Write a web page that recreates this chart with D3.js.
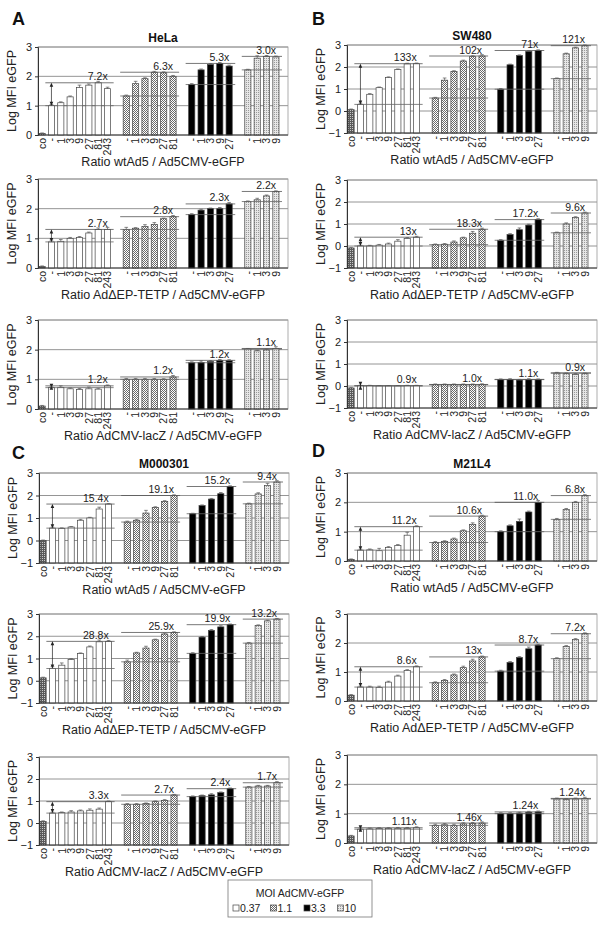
<!DOCTYPE html>
<html><head><meta charset="utf-8">
<script src="https://cdn.jsdelivr.net/npm/d3@7"></script>
<style>body{margin:0;background:#fff} svg{display:block;font-family:"Liberation Sans",Arial,sans-serif}</style>
</head><body><svg id="c" width="600" height="929"></svg>
<script>
// ---------- DATA ----------
const categories = ["co","-","1","3","9","27","81","243","-","1","3","9","27","81","-","1","3","9","27","-","1","3","9"];
const groupOf    = [0,1,1,1,1,1,1,1,2,2,2,2,2,2,3,3,3,3,3,4,4,4,4];
const moiLabels  = ["0.37","1.1","3.3","10"];
const cellLines  = ["HeLa","SW480","M000301","M21L4"];
const panelLetters = ["A","B","C","D"];
const ratioTitles = ["Ratio wtAd5 / Ad5CMV-eGFP","Ratio Ad\u0394EP-TETP / Ad5CMV-eGFP","Ratio AdCMV-lacZ / Ad5CMV-eGFP"];
const yTicksA = [0,1,2,3];
const yTicksB = [-1,0,1,2,3];

const helaWt   = [0.05, 1.0,1.1,1.3,1.62,1.7,1.78,1.58, 1.33,1.75,1.92,2.14,2.12,2.0, 1.72,2.22,2.4,2.44,2.35, 2.22,2.62,2.68,2.66];
const helaTetp = [0.05, 0.88,0.9,1.0,1.03,1.18,1.3,1.3, 1.3,1.34,1.4,1.47,1.66,1.73, 1.8,1.95,2.0,2.0,2.16, 2.24,2.3,2.43,2.58];
const helaLacz = [0.1, 0.72,0.73,0.68,0.66,0.68,0.67,0.78, 1.0,1.0,1.0,1.0,0.99,1.08, 1.56,1.57,1.6,1.64,1.63, 2.02,1.96,1.99,2.04];
const swWt     = [0.06, 0.3,0.76,1.06,1.52,1.88,2.14,2.15, 0.59,1.4,1.8,2.27,2.47,2.5, 0.99,2.1,2.52,2.71,2.75, 1.47,2.6,2.87,2.97];
const swTetp   = [-0.09, 0.0,0.0,0.04,0.09,0.22,0.34,0.4, 0.06,0.08,0.18,0.37,0.58,0.76, 0.26,0.52,0.74,0.95,1.2, 0.6,1.0,1.3,1.5];
const swLacz   = [-0.09, 0.01,0.01,0.0,0.0,0.0,0.01,0.01, 0.06,0.06,0.06,0.06,0.06,0.07, 0.29,0.3,0.27,0.3,0.29, 0.59,0.56,0.53,0.56];
const mWt      = [0.0, 0.55,0.54,0.6,0.9,1.0,1.4,1.62, 0.82,0.9,1.22,1.47,1.74,2.0, 1.19,1.55,1.84,2.08,2.4, 1.63,2.07,2.44,2.6];
const mTetp    = [0.13, 0.55,0.7,0.95,1.22,1.52,1.75,1.77, 0.85,1.25,1.47,1.84,2.1,2.17, 1.23,1.96,2.26,2.42,2.52, 1.69,2.48,2.69,2.77];
const mLacz    = [0.07, 0.45,0.47,0.5,0.55,0.58,0.63,0.97, 0.85,0.85,0.88,0.97,1.03,1.27, 1.2,1.24,1.28,1.38,1.56, 1.63,1.68,1.68,1.83];
const dWt      = [0.05, 0.37,0.38,0.35,0.46,0.53,0.88,1.17, 0.63,0.66,0.75,1.03,1.25,1.53, 1.0,1.2,1.35,1.67,2.0, 1.42,1.76,2.0,2.23];
const dTetp    = [0.2, 0.48,0.48,0.47,0.65,0.86,1.05,1.18, 0.63,0.71,0.9,1.15,1.38,1.52, 1.03,1.33,1.5,1.8,1.93, 1.46,1.88,2.12,2.32];
const dLacz    = [0.24, 0.47,0.48,0.49,0.49,0.5,0.5,0.52, 0.6,0.62,0.6,0.65,0.66,0.68, 1.0,1.0,1.02,1.05,1.06, 1.5,1.48,1.5,1.52];

const helaWtErr   = [0.02, 0.04,0.03,0.03,0.08,0.04,0.05,0.05, 0.03,0.08,0.03,0.03,0.03,0.03, 0.03,0.03,0.03,0.03,0.03, 0.02,0.08,0.03,0.03];
const helaTetpErr = [0.02, 0.06,0.06,0.03,0.03,0.03,0.05,0.07, 0.07,0.02,0.06,0.06,0.02,0.04, 0.03,0.03,0.02,0.04,0.05, 0.02,0.05,0.03,0.02];
const helaLaczErr = [0.02, 0.03,0.05,0.03,0.03,0.06,0.03,0.03, 0.03,0.03,0.03,0.03,0.03,0.05, 0.03,0.05,0.03,0.03,0.03, 0.02,0.02,0.03,0.06];
const swWtErr     = [0.03, 0.05,0.03,0.03,0.03,0.03,0.03,0.03, 0.03,0.1,0.03,0.04,0.04,0.06, 0.03,0.03,0.03,0.03,0.03, 0.03,0.03,0.03,0.03];
const swTetpErr   = [0.03, 0.03,0.03,0.03,0.04,0.07,0.04,0.04, 0.03,0.03,0.05,0.03,0.08,0.05, 0.03,0.04,0.08,0.04,0.04, 0.03,0.05,0.03,0.04];
const swLaczErr   = [0.03, 0.02,0.02,0.02,0.02,0.02,0.02,0.02, 0.03,0.03,0.03,0.03,0.03,0.03, 0.03,0.03,0.03,0.03,0.03, 0.03,0.03,0.03,0.03];
const mWtErr      = [0.02, 0.04,0.02,0.02,0.04,0.03,0.08,0.02, 0.04,0.04,0.12,0.03,0.03,0.03, 0.02,0.03,0.03,0.05,0.03, 0.03,0.05,0.1,0.06];
const mTetpErr    = [0.03, 0.08,0.1,0.04,0.03,0.04,0.08,0.04, 0.08,0.03,0.08,0.03,0.04,0.03, 0.03,0.03,0.04,0.05,0.03, 0.03,0.03,0.03,0.03];
const mLaczErr    = [0.03, 0.04,0.03,0.06,0.04,0.06,0.05,0.03, 0.03,0.03,0.03,0.03,0.03,0.03, 0.03,0.03,0.05,0.03,0.03, 0.03,0.03,0.03,0.05];
const dWtErr      = [0.02, 0.03,0.03,0.08,0.03,0.03,0.1,0.03, 0.03,0.03,0.03,0.03,0.05,0.03, 0.03,0.03,0.08,0.03,0.06, 0.03,0.03,0.03,0.03];
const dTetpErr    = [0.02, 0.03,0.03,0.04,0.03,0.03,0.03,0.03, 0.03,0.03,0.03,0.05,0.06,0.03, 0.03,0.03,0.03,0.06,0.03, 0.03,0.03,0.03,0.03];
const dLaczErr    = [0.02, 0.03,0.03,0.03,0.03,0.03,0.03,0.03, 0.04,0.04,0.04,0.04,0.04,0.04, 0.03,0.03,0.03,0.03,0.03, 0.03,0.03,0.03,0.04];

const helaWtFold   = ["7.2x","6.3x","5.3x","3.0x"];
const helaTetpFold = ["2.7x","2.8x","2.3x","2.2x"];
const helaLaczFold = ["1.2x","1.2x","1.2x","1.1x"];
const swWtFold     = ["133x","102x","71x","121x"];
const swTetpFold   = ["13x","18.3x","17.2x","9.6x"];
const swLaczFold   = ["0.9x","1.0x","1.1x","0.9x"];
const mWtFold      = ["15.4x","19.1x","15.2x","9.4x"];
const mTetpFold    = ["28.8x","25.9x","19.9x","13.2x"];
const mLaczFold    = ["3.3x","2.7x","2.4x","1.7x"];
const dWtFold      = ["11.2x","10.6x","11.0x","6.8x"];
const dTetpFold    = ["8.6x","13x","8.7x","7.2x"];
const dLaczFold    = ["1.11x","1.46x","1.24x","1.24x"];

// ---------- DRAWING ----------
const svg = d3.select("#c");
const defs = svg.append("defs");
function pat(id, bg, fg, cells){
  const p = defs.append("pattern").attr("id",id).attr("width",2).attr("height",2).attr("patternUnits","userSpaceOnUse");
  p.append("rect").attr("width",2).attr("height",2).attr("fill",bg);
  cells.forEach(c=>p.append("rect").attr("x",c[0]).attr("y",c[1]).attr("width",1).attr("height",1).attr("fill",fg));
}
pat("pCo","#5a5a5a","#c8c8c8",[[0,0]]);
pat("pG2","#ffffff","#6a6a6a",[[0,0],[1,1]]);
pat("pG4","#e6e6e6","#9a9a9a",[[0,0]]);
const fills = ["url(#pCo)","#ffffff","url(#pG2)","#000000","url(#pG4)"];

const slots = categories.map((c,i)=> i + Math.max(0, groupOf[i]-1));
const nSlots = 26;

const panels = [
  {x0:38, top:[47,179,320], bot:[135,268,409], dom:[0,3], ticks:yTicksA, vals:[helaWt,helaTetp,helaLacz], errs:[helaWtErr,helaTetpErr,helaLaczErr], folds:[helaWtFold,helaTetpFold,helaLaczFold]},
  {x0:347, top:[45,180,320], bot:[133,268,408], dom:[-1,3], ticks:yTicksB, vals:[swWt,swTetp,swLacz], errs:[swWtErr,swTetpErr,swLaczErr], folds:[swWtFold,swTetpFold,swLaczFold]},
  {x0:39, top:[473,614,757], bot:[563,703,845], dom:[-1,3], ticks:yTicksB, vals:[mWt,mTetp,mLacz], errs:[mWtErr,mTetpErr,mLaczErr], folds:[mWtFold,mTetpFold,mLaczFold]},
  {x0:347, top:[473,614,755], bot:[561,701,843], dom:[0,3], ticks:yTicksA, vals:[dWt,dTetp,dLacz], errs:[dWtErr,dTetpErr,dLaczErr], folds:[dWtFold,dTetpFold,dLaczFold]}
];
const letterPos = [[12,25],[312,25],[12,459],[312,457]];
const W = 250;

panels.forEach((P,pi)=>{
  svg.append("text").attr("x",letterPos[pi][0]).attr("y",letterPos[pi][1]).attr("font-size",18).attr("font-weight","bold").attr("fill","#111").text(panelLetters[pi]);
  svg.append("text").attr("x",P.x0+W/2).attr("y",P.top[0]-5).attr("text-anchor","middle").attr("font-size",12).attr("font-weight","bold").attr("fill","#111").text(cellLines[pi]);
  for(let k=0;k<3;k++){
    const vals=P.vals[k], errs=P.errs[k], folds=P.folds[k];
    const g = svg.append("g");
    const x = d3.scaleBand().domain(d3.range(nSlots)).range([P.x0+1, P.x0+W-9]).paddingInner(0.34);
    const y = d3.scaleLinear().domain(P.dom).range([P.bot[k], P.top[k]]);
    const bw = x.bandwidth();
    g.selectAll("line.grid").data(P.ticks).join("line").attr("x1",P.x0).attr("x2",P.x0+W)
      .attr("y1",d=>y(d)).attr("y2",d=>y(d)).attr("stroke","#7a7a7a").attr("stroke-width",0.8);
    g.append("rect").attr("x",P.x0).attr("y",P.top[k]).attr("width",W).attr("height",P.bot[k]-P.top[k])
      .attr("fill","none").attr("stroke","#9a9a9a").attr("stroke-width",0.8);
    g.selectAll("rect.bar").data(vals).join("rect")
      .attr("x",(d,i)=>x(slots[i])).attr("width",bw)
      .attr("y",d=>y(d)).attr("height",d=>Math.max(0,y(P.dom[0])-y(d)))
      .attr("fill",(d,i)=>fills[groupOf[i]]).attr("stroke","#444").attr("stroke-width",0.7);
    g.selectAll("path.err").data(vals).join("path")
      .attr("d",(d,i)=>{const cx=x(slots[i])+bw/2, y1=y(d), y2=y(d+errs[i]); return `M${cx},${y1}V${y2}M${cx-1.8},${y2}H${cx+1.8}`;})
      .attr("stroke","#555").attr("stroke-width",0.7).attr("fill","none");
    for(let gi=1;gi<=4;gi++){
      const idx = d3.range(vals.length).filter(i=>groupOf[i]===gi);
      const base = vals[idx[0]], mx = d3.max(idx, i=>vals[i]);
      const xa = x(slots[idx[0]])-3, xb = x(slots[idx[idx.length-1]])+bw+3;
      g.append("line").attr("x1",xa).attr("x2",xb).attr("y1",y(base)).attr("y2",y(base)).attr("stroke","#666").attr("stroke-width",0.8);
      g.append("line").attr("x1",xa).attr("x2",xb).attr("y1",y(mx)).attr("y2",y(mx)).attr("stroke","#555").attr("stroke-width",0.8);
      g.append("text").attr("x",xb-6).attr("y",y(mx)-2.5).attr("text-anchor","end").attr("font-size",10.5).attr("fill","#222").text(folds[gi-1]);
      if(gi===1){
        const cx = x(slots[idx[0]])+bw/2, ya=y(base), yb=y(mx);
        g.append("line").attr("x1",cx).attr("x2",cx).attr("y1",ya-2).attr("y2",yb+2).attr("stroke","#222").attr("stroke-width",0.7);
        g.append("path").attr("d",`M${cx},${yb}l-1.8,4h3.6z M${cx},${ya}l-1.8,-4h3.6z`).attr("fill","#222");
      }
    }
    const ax = g.append("g").attr("transform",`translate(${P.x0},0)`).call(d3.axisLeft(y).tickValues(P.ticks).tickSize(3).tickFormat(d3.format("d")));
    ax.select(".domain").attr("stroke","#333");
    ax.selectAll(".tick line").attr("stroke","#333");
    ax.selectAll("text").attr("font-size",11).attr("fill","#222").attr("font-family","Liberation Sans, Arial, sans-serif");
    g.append("line").attr("x1",P.x0).attr("x2",P.x0+W).attr("y1",P.bot[k]).attr("y2",P.bot[k]).attr("stroke","#333").attr("stroke-width",0.8);
    g.selectAll("text.xl").data(categories).join("text")
      .attr("transform",(d,i)=>`translate(${x(slots[i])+bw/2+3.8},${P.bot[k]+3}) rotate(-90)`)
      .attr("text-anchor","end").attr("font-size",10.5).attr("fill","#222").text(d=>d);
    const ym=(P.top[k]+P.bot[k])/2;
    g.append("text").attr("transform",`translate(${P.x0-22},${ym}) rotate(-90)`).attr("text-anchor","middle")
      .attr("font-size",12.5).attr("fill","#222").text("Log MFI eGFP");
    g.append("text").attr("x",P.x0+W/2).attr("y",P.bot[k]+31).attr("text-anchor","middle")
      .attr("font-size",12.5).attr("fill","#222").text(ratioTitles[k]);
  }
});

const lg = svg.append("g");
lg.append("rect").attr("x",228).attr("y",880).attr("width",144).attr("height",37).attr("fill","#fff").attr("stroke","#777").attr("stroke-width",0.8);
lg.append("text").attr("x",300).attr("y",897).attr("text-anchor","middle").attr("font-size",10.5).attr("fill","#222").text("MOI AdCMV-eGFP");
const lx = d3.scaleBand().domain(moiLabels).range([233,367]).padding(0);
moiLabels.forEach((m,i)=>{
  const xx = lx(m) + (i===0?0:4);
  lg.append("rect").attr("x",xx).attr("y",905).attr("width",6).attr("height",6).attr("fill",fills[i+1]).attr("stroke","#444").attr("stroke-width",0.7);
  lg.append("text").attr("x",xx+7).attr("y",911.5).attr("font-size",10.5).attr("fill","#222").text(m);
});
</script></body></html>
